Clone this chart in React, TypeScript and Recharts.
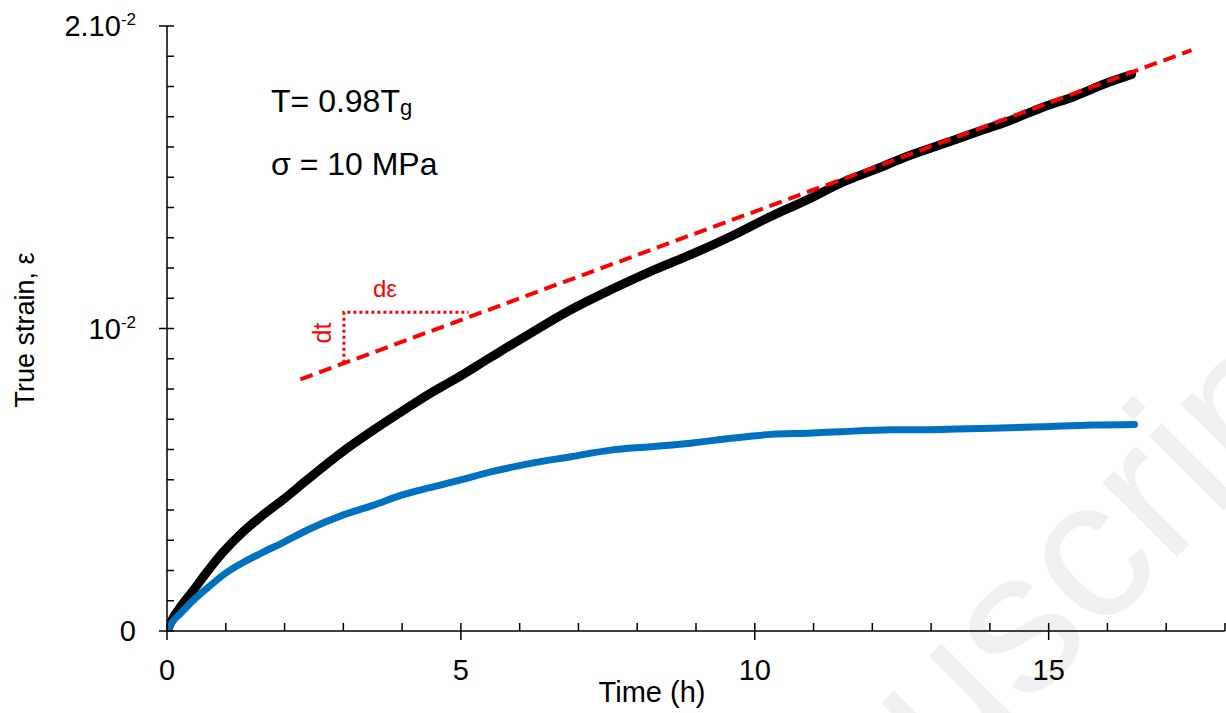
import React from "react";
import { LineChart, Line, XAxis, YAxis } from "recharts";

// Time (h) and true strain (in units of 1e-3)
const blackTime = [0, 0.1, 0.23, 0.45, 0.68, 0.96, 1.25, 1.59, 2.0, 2.38, 2.99, 3.52, 3.99, 4.43, 4.88, 5.51, 6.19, 6.87, 7.55, 8.23, 8.91, 9.6, 10.28, 10.9, 11.47, 12.04, 12.61, 13.17, 13.74, 14.31, 14.88, 15.45, 16.01, 16.41];
const blackStrain = [0, 0.42, 0.8, 1.35, 1.95, 2.62, 3.2, 3.77, 4.38, 4.99, 5.93, 6.65, 7.25, 7.8, 8.3, 9.05, 9.85, 10.62, 11.28, 11.89, 12.44, 13.05, 13.71, 14.26, 14.81, 15.25, 15.7, 16.08, 16.47, 16.85, 17.3, 17.68, 18.13, 18.4];

const blueTime = [0, 0.1, 0.23, 0.45, 0.74, 0.99, 1.31, 1.59, 2.0, 2.38, 2.99, 3.52, 3.99, 4.43, 4.95, 5.51, 6.19, 6.87, 7.55, 8.23, 8.91, 9.6, 10.28, 10.9, 11.47, 12.32, 13.17, 14.03, 14.88, 15.73, 16.46];
const blueStrain = [0, 0.32, 0.58, 1.02, 1.51, 1.9, 2.28, 2.56, 2.95, 3.33, 3.83, 4.16, 4.49, 4.72, 4.97, 5.26, 5.54, 5.76, 5.98, 6.09, 6.21, 6.37, 6.5, 6.54, 6.59, 6.65, 6.66, 6.7, 6.75, 6.81, 6.83];

// Linear fit (red dashed)
const fitTime = [2.27, 17.43];
const fitStrain = [8.32, 19.2];

// Slope triangle (red dotted)
const triTime = [3.01, 3.01, 5.13];
const triStrain = [8.87, 10.54, 10.54];

const xTicks = [0, 1, 2, 3, 4, 5, 6, 7, 8, 9, 10, 11, 12, 13, 14, 15, 16, 17, 18];
const xMajor = [0, 5, 10, 15];
const yTicks = [0, 1, 2, 3, 4, 5, 6, 7, 8, 9, 10, 11, 12, 13, 14, 15, 16, 17, 18, 19, 20];
const yLabels: Record<number, [string, string]> = { 0: ["0", ""], 10: ["10", "-2"], 20: ["2.10", "-2"] };

const zip = (ts: number[], es: number[]) => ts.map((t, i) => ({ t, e: es[i] }));
const blackData = zip(blackTime, blackStrain);
const blueData = zip(blueTime, blueStrain);
const fitData = zip(fitTime, fitStrain);
const triData = zip(triTime, triStrain);

const FONT = "'Liberation Sans', Arial, sans-serif";

const XTick = (props: any) => {
  const { x, y, payload } = props;
  const v = payload.value;
  const major = xMajor.includes(v);
  return (
    <g>
      <line x1={x} x2={x} y1={y - 8} y2={major ? y + 9 : y} stroke="#000" strokeWidth={1.5} />
      {major && (
        <text x={x} y={y + 49} textAnchor="middle" fontSize={29} fontFamily={FONT} fill="#000">
          {v}
        </text>
      )}
    </g>
  );
};

const YTick = (props: any) => {
  const { x, y, payload } = props;
  const v = payload.value;
  const lab = yLabels[v];
  return (
    <g>
      <line x1={lab ? x - 8 : x} x2={x + 7} y1={y} y2={y} stroke="#000" strokeWidth={1.5} />
      {lab && (
        <text x={x - 31} y={y + 10} textAnchor="end" fontSize={29} fontFamily={FONT} fill="#000">
          {lab[0]}
          {lab[1] && (
            <tspan fontSize={17} dy={-11}>
              {lab[1]}
            </tspan>
          )}
        </text>
      )}
    </g>
  );
};

export default function App() {
  return (
    <div style={{ position: "absolute", left: 0, top: 0, width: 1226, height: 713, background: "#fff", overflow: "hidden" }}>
      <svg width={1226} height={713} style={{ position: "absolute", left: 0, top: 0 }}>
        <text
          x={672}
          y={1062}
          fontSize={200}
          fontFamily={FONT}
          fill="#f0f0f0"
          transform="rotate(-45 672 1062)"
        >
          Manuscript
        </text>
        <text x={271} y={112} fontSize={32} fontFamily={FONT} fill="#000">
          T= 0.98T<tspan fontSize={22} dy={3}>g</tspan>
        </text>
        <text x={271} y={175} fontSize={32} fontFamily={FONT} fill="#000">
          σ = 10 MPa
        </text>
        <text x={385} y={297} fontSize={24} textAnchor="middle" fontFamily={FONT} fill="#ff0000">
          dε
        </text>
        <text x={331} y={333} fontSize={25} textAnchor="middle" fontFamily={FONT} fill="#ff0000" transform="rotate(-90 331 333)">
          dt
        </text>
        <text x={34} y={330} fontSize={27} textAnchor="middle" fontFamily={FONT} fill="#000" transform="rotate(-90 34 330)">
          True strain, ε
        </text>
        <text x={652} y={702} fontSize={29} textAnchor="middle" fontFamily={FONT} fill="#000">
          Time (h)
        </text>
      </svg>
      <LineChart width={1226} height={713} margin={{ top: 26, right: 1, left: 0, bottom: 0 }}>
        <XAxis
          type="number"
          dataKey="t"
          domain={[0, 18]}
          ticks={xTicks}
          interval={0}
          height={82}
          tickSize={0}
          tickMargin={0}
          tickLine={false}
          allowDataOverflow
          axisLine={{ stroke: "#000", strokeWidth: 1.5 }}
          tick={(p: any) => <XTick {...p} />}
        />
        <YAxis
          type="number"
          dataKey="e"
          domain={[0, 20]}
          ticks={yTicks}
          interval={0}
          width={167}
          tickSize={0}
          tickMargin={0}
          tickLine={false}
          allowDataOverflow
          axisLine={{ stroke: "#000", strokeWidth: 1.5 }}
          tick={(p: any) => <YTick {...p} />}
        />
        <Line data={blackData} dataKey="e" type="monotone" stroke="#000" strokeWidth={9} dot={false} strokeLinecap="round" strokeLinejoin="round" isAnimationActive={false} />
        <Line data={blueData} dataKey="e" type="monotone" stroke="#0070c0" strokeWidth={7} dot={false} strokeLinecap="round" strokeLinejoin="round" isAnimationActive={false} />
        <Line data={fitData} dataKey="e" type="linear" stroke="#ff0000" strokeWidth={4} strokeDasharray="13 7" dot={false} isAnimationActive={false} />
        <Line data={triData} dataKey="e" type="linear" stroke="#ff0000" strokeWidth={3} strokeDasharray="3 3" dot={false} isAnimationActive={false} />
      </LineChart>
    </div>
  );
}
